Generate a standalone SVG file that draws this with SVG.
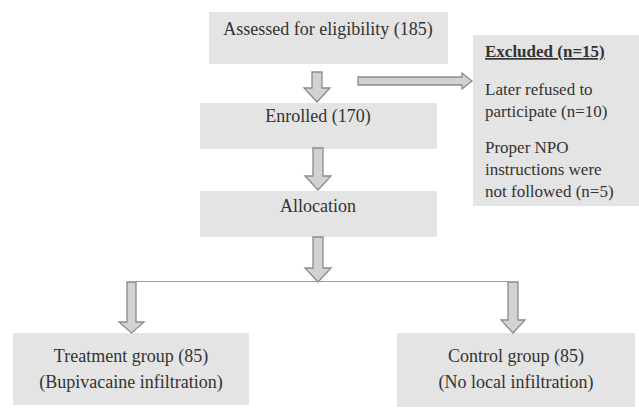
<svg xmlns="http://www.w3.org/2000/svg" width="639" height="408" viewBox="0 0 639 408">
<style>
.box{fill:#e4e4e4;stroke:none}
.t{font-family:"Liberation Serif","Times New Roman",serif;font-size:18px;fill:#333;text-anchor:middle}
.s{font-family:"Liberation Serif","Times New Roman",serif;font-size:17px;fill:#333}
.arr{fill:#d2d2d2;stroke:#8a8a8a;stroke-width:1.3;stroke-linejoin:miter}
.ln{stroke:#9a9a9a;stroke-width:1.2;fill:none}
</style>
<rect width="639" height="408" fill="#fff"/>
<g id="assessed">
<rect class="box" x="209" y="12" width="239" height="52"/>
<text class="t" x="328" y="35">Assessed for eligibility (185)</text>
</g>
<g id="excluded">
<rect class="box" x="473" y="35" width="166" height="171"/>
<text class="s" x="485" y="57" font-weight="bold" text-decoration="underline">Excluded (n=15)</text>
<text class="s" x="485" y="95">Later refused to</text>
<text class="s" x="485" y="117">participate (n=10)</text>
<text class="s" x="485" y="153">Proper NPO</text>
<text class="s" x="485" y="175">instructions were</text>
<text class="s" x="485" y="197">not followed (n=5)</text>
</g>
<g id="enrolled">
<rect class="box" x="200" y="103" width="237" height="46"/>
<text class="t" x="318" y="122">Enrolled (170)</text>
</g>
<g id="allocation">
<rect class="box" x="200" y="191" width="237" height="46"/>
<text class="t" x="318" y="212">Allocation</text>
</g>
<g id="treatment">
<rect class="box" x="13" y="333" width="236" height="72"/>
<text class="t" x="131" y="362">Treatment group (85)</text>
<text class="t" x="131" y="388">(Bupivacaine infiltration)</text>
</g>
<g id="control">
<rect class="box" x="397" y="333" width="238" height="74"/>
<text class="t" x="516" y="362">Control group (85)</text>
<text class="t" x="516" y="388">(No local infiltration)</text>
</g>
<g id="connectors">
<path class="arr" d="M312 72 H322 V88 H330 L317 102 L304 88 H312 Z"/>
<path class="arr" d="M358 77 H462 V73 L472 81 L462 89 V85 H358 Z"/>
<path class="arr" d="M313 148 H323 V176 H331 L318 190 L305 176 H313 Z"/>
<path class="arr" d="M313 237 H323 V268 H331 L318 282 L305 268 H313 Z"/>
<path class="ln" d="M136 281.5 H508"/>
<path class="arr" d="M127 282 H136 V322 H144 L131.5 333 L119 322 H127 Z"/>
<path class="arr" d="M508 282 H518 V320 H525 L513 333 L501 320 H508 Z"/>
</g>
</svg>
